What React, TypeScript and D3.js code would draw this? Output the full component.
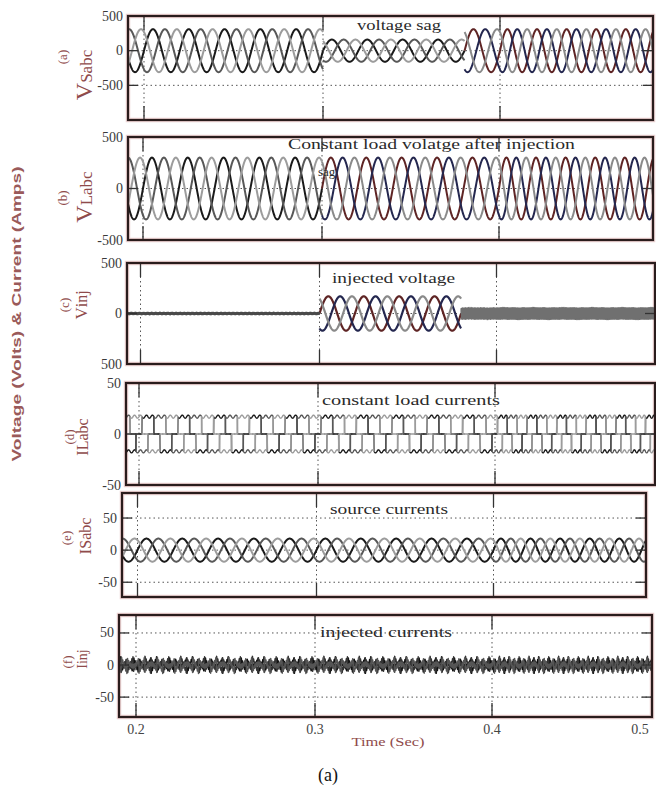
import React from "react";
import * as d3 from "d3";

// ---------- data ----------
const timeTicks = [0.2, 0.3, 0.4, 0.5];
const timeTickLabels = ["0.2", "0.3", "0.4", "0.5"];
const sagWindow = [0.3, 0.38]; // seconds: start / end of the sag
const supplyFrequency = 50; // Hz
const phaseShiftsDeg = [0, -120, 120];
const sourceVoltageAmp = [310, 160, 310]; // before / during / after sag
const loadVoltageAmp = [300, 300, 300];
const injectedVoltageAmp = [0, 170, 0];
const injectedVoltageRipple = [8, 0, 50];
const loadCurrentLevel = 17;
const loadCurrentRipple = 1.5;
const sourceCurrentAmp = 18;
const injectedCurrentLevel = 20;
const injectedCurrentRipple = 3;

const panelLetters = ["(a)", "(b)", "(c)", "(d)", "(e)", "(f)"];
const panelSymbols = ["V", "V", "V", "I", "I", "I"];
const panelSubscripts = ["Sabc", "Labc", "inj", "Labc", "Sabc", "inj"];
const panelNotes = [
  "voltage sag",
  "Constant load volatge after injection",
  "injected voltage",
  "constant load currents",
  "source currents",
  "injected currents",
];
const yDomains = [
  [-1000, 500],
  [-500, 500],
  [-500, 500],
  [-50, 50],
  [-73, 89],
  [-81, 78],
];
const yTickValues = [
  [500, 0, -500],
  [500, 0, -500],
  [500, 0, -500],
  [50, 0, -50],
  [50, 0, -50],
  [50, 0, -50],
];
const yTickLabels = [
  ["500", "0", "-500"],
  ["500", "0", "-500"],
  ["500", "0", "500"],
  ["50", "0", "-50"],
  ["50", "0", "-50"],
  ["50", "0", "-50"],
];

// ---------- layout / style ----------
const W = 656;
const H = 786;
const frames = [
  { left: 128, right: 653, top: 16, bottom: 120, shift: 8 },
  { left: 128, right: 653, top: 137, bottom: 240, shift: 7 },
  { left: 127, right: 655, top: 263, bottom: 364, shift: 4.5 },
  { left: 126, right: 655, top: 383, bottom: 485, shift: 3 },
  { left: 122, right: 646, top: 493, bottom: 597, shift: 1.5 },
  { left: 119, right: 652, top: 615, bottom: 717, shift: 0 },
];
const baseTimeRange = [136, 315, 492, 640];
const labelLayout = [
  { lx: 67, lcy: 57, sx: 92, scy: 75, vSize: 24, sSize: 17 },
  { lx: 67, lcy: 198, sx: 92, scy: 197, vSize: 24, sSize: 17 },
  { lx: 69, lcy: 305, sx: 87, scy: 305, vSize: 17, sSize: 16 },
  { lx: 74, lcy: 437, sx: 88, scy: 437, vSize: 16, sSize: 16 },
  { lx: 71, lcy: 538, sx: 91, scy: 536, vSize: 17, sSize: 16 },
  { lx: 72, lcy: 662, sx: 87, scy: 659, vSize: 14, sSize: 14 },
];
const noteLayout = [
  { x: 357, y: 30, len: 84 },
  { x: 288, y: 149, len: 287 },
  { x: 332, y: 283, len: 123 },
  { x: 322, y: 405, len: 178 },
  { x: 330, y: 514, len: 118 },
  { x: 320, y: 637, len: 132 },
];
const grayPalette = ["#1a1a1a", "#585858", "#9c9c9c"];
const colorPalette = ["#5e2424", "#24274f", "#8a8a8a"];
const darkPalette = ["#111111", "#333333", "#555555"];
const labelColor = "#8f4b4b";
const serif = "'Liberation Serif', 'Times New Roman', serif";

// ---------- waveform helpers ----------
const DT = 0.0001;
const omega = 2 * Math.PI * supplyFrequency;
const rad = (d: number) => (d * Math.PI) / 180;

function quasiSquare(deg: number) {
  const d = ((deg % 360) + 360) % 360;
  if (d >= 30 && d < 150) return 1;
  if (d >= 210 && d < 330) return -1;
  return 0;
}

function times(t0: number, t1: number) {
  const out: number[] = [];
  for (let t = t0; t < t1; t += DT) out.push(t);
  out.push(t1);
  return out;
}

type Trace = { color: string; width: number; pts: [number, number][] };

function buildTraces(i: number, tMin: number, tMax: number): Trace[] {
  const bounds = [tMin, sagWindow[0], sagWindow[1], tMax];
  const traces: Trace[] = [];
  const seg = (s: number) => times(bounds[s], bounds[s + 1]);
  phaseShiftsDeg.forEach((ph, k) => {
    const p = rad(ph);
    if (i === 0) {
      for (let s = 0; s < 3; s++) {
        const pal = s === 2 ? colorPalette : grayPalette;
        traces.push({
          color: pal[k],
          width: 2,
          pts: seg(s).map((t) => [t, sourceVoltageAmp[s] * Math.sin(omega * t + p)]),
        });
      }
    } else if (i === 1) {
      const tsA = times(tMin, sagWindow[0]);
      const tsB = times(sagWindow[0], tMax);
      traces.push({ color: grayPalette[k], width: 2, pts: tsA.map((t) => [t, loadVoltageAmp[0] * Math.sin(omega * t + p)]) });
      traces.push({ color: colorPalette[k], width: 2, pts: tsB.map((t) => [t, loadVoltageAmp[1] * Math.sin(omega * t + p)]) });
    } else if (i === 2) {
      traces.push({
        color: "#4a4a4a",
        width: 1.3,
        pts: seg(0).map((t) => [
          t,
          injectedVoltageRipple[0] * Math.sin(2 * Math.PI * 730 * t + p) + 0.5 * injectedVoltageRipple[0] * Math.sin(2 * Math.PI * 1900 * t + 2 * p),
        ]),
      });
      traces.push({
        color: colorPalette[k],
        width: 2.2,
        pts: seg(1).map((t) => [t, injectedVoltageAmp[1] * Math.sin(omega * t + p)]),
      });
      traces.push({
        color: "#707070",
        width: 1.2,
        pts: seg(2).map((t) => [
          t,
          injectedVoltageRipple[2] * Math.sin(2 * Math.PI * 1250 * t + p) + 10 * Math.sin(omega * t + p),
        ]),
      });
    } else if (i === 3) {
      traces.push({
        color: grayPalette[k],
        width: 1.4,
        pts: times(tMin, tMax).map((t) => {
          const th = omega * t + p;
          const q = quasiSquare((th * 180) / Math.PI);
          return [t, q * loadCurrentLevel + (q !== 0 ? loadCurrentRipple * Math.sin(6 * th) : 0)];
        }),
      });
    } else if (i === 4) {
      traces.push({
        color: grayPalette[k],
        width: 2,
        pts: times(tMin, tMax).map((t) => [t, sourceCurrentAmp * Math.sin(omega * t + p)]),
      });
    } else {
      const fund = (2 * Math.sqrt(3)) / Math.PI;
      traces.push({
        color: darkPalette[k],
        width: 1.4,
        pts: times(tMin, tMax).map((t) => {
          const th = omega * t + p;
          const q = quasiSquare((th * 180) / Math.PI);
          return [
            t,
            injectedCurrentLevel * (q - fund * Math.sin(th)) + injectedCurrentRipple * Math.sin(2 * Math.PI * 1500 * t + p),
          ];
        }),
      });
    }
  });
  return traces;
}

function Panel({ i }: { i: number }) {
  const f = frames[i];
  const xs = d3
    .scaleLinear()
    .domain(timeTicks)
    .range(baseTimeRange.map((r) => r + f.shift));
  const ys = d3.scaleLinear().domain(yDomains[i]).range([f.bottom, f.top]);
  const tMin = xs.invert(f.left);
  const tMax = xs.invert(f.right);
  const traces = buildTraces(i, tMin, tMax);
  const line = d3
    .line<[number, number]>()
    .x((d) => xs(d[0]))
    .y((d) => ys(d[1]));
  const clipId = `clip-${i}`;
  const innerTicks = timeTicks.filter((t) => xs(t) > f.left + 5 && xs(t) < f.right - 15);
  const lab = labelLayout[i];
  const note = noteLayout[i];
  return (
    <g>
      <defs>
        <clipPath id={clipId}>
          <rect x={f.left} y={f.top} width={f.right - f.left} height={f.bottom - f.top} />
        </clipPath>
      </defs>
      <rect x={f.left} y={f.top} width={f.right - f.left} height={f.bottom - f.top} fill="#fff" stroke="#ecd2d2" strokeWidth={4.5} />
      {/* grid */}
      <g stroke="#555" strokeWidth={1} strokeDasharray="1.5,3" fill="none">
        {innerTicks.map((t) => (
          <line key={"gx" + t} x1={xs(t)} x2={xs(t)} y1={f.top} y2={f.bottom} />
        ))}
        {yTickValues[i]
          .filter((v) => ys(v) > f.top + 3 && ys(v) < f.bottom - 3)
          .map((v) => (
            <line key={"gy" + v} x1={f.left} x2={f.right} y1={ys(v)} y2={ys(v)} />
          ))}
      </g>
      <g clipPath={`url(#${clipId})`} fill="none" strokeLinejoin="round">
        {traces.map((tr, j) => (
          <path key={j} d={line(tr.pts) || ""} stroke={tr.color} strokeWidth={tr.width} />
        ))}
      </g>
      {/* ticks */}
      <g stroke="#333" strokeWidth={1.3}>
        {innerTicks.map((t) => (
          <g key={"tx" + t}>
            <line x1={xs(t)} x2={xs(t)} y1={f.top} y2={f.top + 14} />
            <line x1={xs(t)} x2={xs(t)} y1={f.bottom} y2={f.bottom - 14} />
          </g>
        ))}
        {yTickValues[i].map((v) => (
          <g key={"ty" + v}>
            <line x1={f.left} x2={f.left + 10} y1={ys(v)} y2={ys(v)} />
            <line x1={f.right} x2={f.right - 10} y1={ys(v)} y2={ys(v)} />
          </g>
        ))}
      </g>
      <rect x={f.left} y={f.top} width={f.right - f.left} height={f.bottom - f.top} fill="none" stroke="#2a1c1c" strokeWidth={2.2} />
      {/* y tick labels */}
      {yTickValues[i].map((v, j) => (
        <text
          key={"yl" + v}
          x={f.left - 5}
          y={ys(v)}
          textAnchor="end"
          dominantBaseline="central"
          fontFamily={serif}
          fontSize={14}
          fill="#3a3a3a"
        >
          {yTickLabels[i][j]}
        </text>
      ))}
      {/* panel labels */}
      <text
        transform={`translate(${lab.lx},${lab.lcy}) rotate(-90)`}
        textAnchor="middle"
        fontFamily={serif}
        fontSize={13}
        fill={labelColor}
      >
        {panelLetters[i]}
      </text>
      <text
        transform={`translate(${lab.sx},${lab.scy}) rotate(-90)`}
        textAnchor="middle"
        fontFamily={serif}
        fill={labelColor}
      >
        <tspan fontSize={lab.vSize}>{panelSymbols[i]}</tspan>
        <tspan fontSize={lab.sSize}>{panelSubscripts[i]}</tspan>
      </text>
      {/* annotation */}
      <text
        x={note.x}
        y={note.y}
        fontFamily={serif}
        fontSize={15}
        fill="#2a2a2a"
        textLength={note.len}
        lengthAdjust="spacingAndGlyphs"
      >
        {panelNotes[i]}
      </text>
      {i === 1 && (
        <text x={318} y={176} fontFamily={serif} fontSize={13} fill="#2a2a2a">
          sag
        </text>
      )}
    </g>
  );
}

export default function App() {
  const fb = frames[5];
  const xs = d3
    .scaleLinear()
    .domain(timeTicks)
    .range(baseTimeRange.map((r) => r + fb.shift));
  return (
    <svg
      width={W}
      height={H}
      viewBox={`0 0 ${W} ${H}`}
      style={{ position: "absolute", left: 0, top: 0, background: "#fff" }}
    >
      <rect x={0} y={0} width={W} height={H} fill="#fff" />
      <text
        transform="translate(21,314) rotate(-90)"
        textAnchor="middle"
        fontFamily="'Liberation Sans', Arial, sans-serif"
        fontWeight="bold"
        fontSize={13}
        fill="#9a5a5a"
        textLength={295}
        lengthAdjust="spacingAndGlyphs"
      >
        Voltage (Volts) &amp; Current (Amps)
      </text>
      {frames.map((_, i) => (
        <Panel key={i} i={i} />
      ))}
      {timeTicks.map((t, j) => (
        <text
          key={"xl" + t}
          x={xs(t)}
          y={734}
          textAnchor="middle"
          fontFamily={serif}
          fontSize={14}
          fill="#444"
        >
          {timeTickLabels[j]}
        </text>
      ))}
      <text
        x={388}
        y={746}
        textAnchor="middle"
        fontFamily={serif}
        fontSize={13}
        fill={labelColor}
        textLength={73}
        lengthAdjust="spacingAndGlyphs"
      >
        Time (Sec)
      </text>
      <text x={328} y={781} textAnchor="middle" fontFamily={serif} fontSize={18} fill="#111">
        (a)
      </text>
    </svg>
  );
}
